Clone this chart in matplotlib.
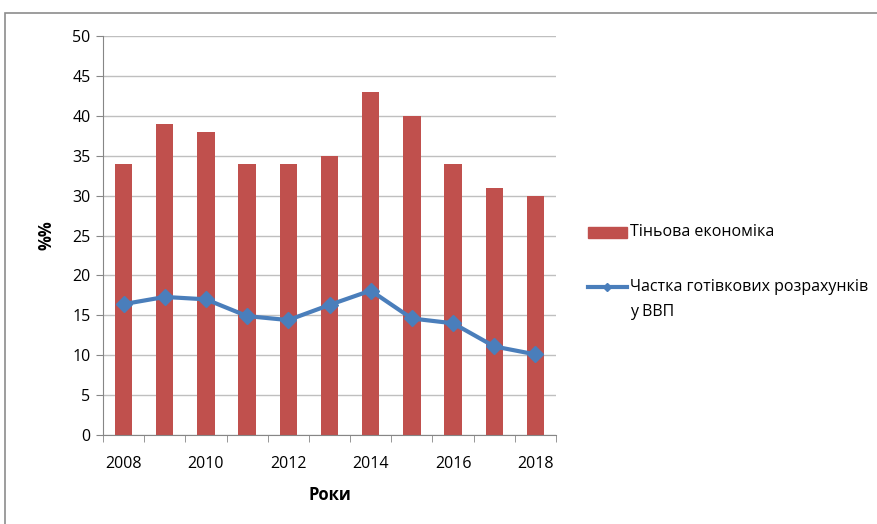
import numpy as np
import matplotlib.pyplot as plt
from matplotlib.patches import Rectangle
from matplotlib.lines import Line2D

plt.rcParams['font.family'] = ['Open Sans', 'DejaVu Sans']

years = [2008, 2009, 2010, 2011, 2012, 2013, 2014, 2015, 2016, 2017, 2018]
shadow = [34, 39, 38, 34, 34, 35, 43, 40, 34, 31, 30]
cash = [16.4, 17.3, 17.0, 14.9, 14.4, 16.3, 18.1, 14.6, 14.0, 11.1, 10.1]
label_years = [2008, 2010, 2012, 2014, 2016, 2018]
bar_name = 'Тіньова економіка'
line_name = ['Частка готівкових розрахунків', 'у ВВП']

W, H = 878, 524
fig = plt.figure(figsize=(W / 100, H / 100), dpi=100)


def fx(px):
    return px / W


def fy(py):
    return 1 - py / H


# outer chart border
fig.patches.append(Rectangle((fx(5), -0.05), 1.0, fy(13) + 0.05,
                             transform=fig.transFigure, fill=False,
                             edgecolor='#8c8c8c', linewidth=1.2))

ax = fig.add_axes([fx(103), fy(435), fx(453), 399 / H])
x = np.arange(len(years))
ax.bar(x, shadow, width=0.42, color='#C0504D', zorder=2)
ax.plot(x, cash, color='#4A7EBB', linewidth=3, marker='D', markersize=8,
        zorder=3)

ax.set_xlim(-0.5, len(years) - 0.5)
ax.set_ylim(0, 50)
ax.set_yticks(range(0, 51, 5))
ax.grid(axis='y', color='#bfbfbf', linewidth=1, zorder=0)

ax.set_xticks([years.index(y) for y in label_years])
ax.set_xticklabels([str(y) for y in label_years])
ax.set_xticks(np.arange(-0.5, len(years), 1), minor=True)
ax.tick_params(axis='x', which='major', length=0, pad=15, labelsize=11.5)
ax.tick_params(axis='x', which='minor', length=5, color='#868686')
ax.tick_params(axis='y', length=5, color='#868686', labelsize=11.5, pad=4)

for s in ['top', 'right']:
    ax.spines[s].set_visible(False)
for s in ['left', 'bottom']:
    ax.spines[s].set_color('#868686')

ax.set_xlabel('Роки', fontsize=12, fontweight='bold', labelpad=10)
ax.set_ylabel('%%', fontsize=12, fontweight='bold', labelpad=12)

# legend drawn by hand to match the spacing of the original
fig.patches.append(Rectangle((fx(588), fy(238)), fx(627) - fx(588),
                             11 / H, transform=fig.transFigure,
                             color='#C0504D'))
fig.text(fx(630), fy(232), bar_name, fontsize=11.5, va='center')
fig.lines.append(Line2D([fx(588), fx(627)], [fy(287), fy(287)],
                        transform=fig.transFigure, color='#4A7EBB',
                        linewidth=3))
fig.lines.append(Line2D([fx(607.5)], [fy(287)], transform=fig.transFigure,
                        color='#4A7EBB', marker='D', markersize=4))
fig.text(fx(630), fy(287), line_name[0], fontsize=11.5, va='center')
fig.text(fx(630), fy(312), line_name[1], fontsize=11.5, va='center')

fig.savefig('out.png', dpi=100)
